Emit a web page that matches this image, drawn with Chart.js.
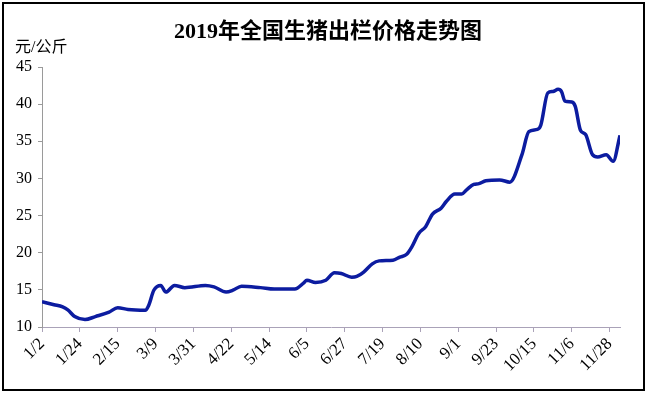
<!DOCTYPE html>
<html>
<head>
<meta charset="utf-8">
<script src="https://cdn.jsdelivr.net/npm/chart.js@4/dist/chart.umd.min.js"></script>
<style>
  html, body { margin: 0; padding: 0; background: #fff; }
  canvas { display: block; }
</style>
</head>
<body>
<canvas id="myChart" width="648" height="395"></canvas>
<script>
// Tick labels on the x axis (every 22 days from Jan 2)
const tickLabels = ["1/2", "1/24", "2/15", "3/9", "3/31", "4/22", "5/14", "6/5",
  "6/27", "7/19", "8/10", "9/1", "9/23", "10/15", "11/6", "11/28"];
const tickDays = [0, 22, 44, 66, 88, 110, 132, 154, 176, 198, 220, 242, 264, 286, 308, 330];

// Price readings: days after Jan 2, price in yuan/kg
const days = [0, 7, 12, 15, 19, 25, 31, 39, 44, 50,
  60, 62, 65, 69, 72, 77, 83, 95, 100, 107,
  111, 116, 127, 135, 147, 152, 154, 159, 165, 170,
  174, 180, 183, 187, 192, 196, 204, 208, 212, 215,
  219, 223, 227, 232, 235, 240, 244, 247, 251, 254,
  258, 266, 272, 279, 283, 288, 290, 294, 297, 300,
  302, 304, 308, 310, 313, 316, 320, 323, 328, 332,
  336];
const prices = [13.4, 13.0, 12.7, 12.3, 11.4, 11.0, 11.4, 12.0, 12.6, 12.35,
  12.25, 12.9, 14.95, 15.6, 14.7, 15.6, 15.3, 15.6, 15.4, 14.7,
  14.95, 15.5, 15.3, 15.1, 15.1, 15.9, 16.3, 16.0, 16.3, 17.3,
  17.2, 16.7, 16.8, 17.4, 18.5, 18.9, 19.0, 19.4, 19.8, 20.8,
  22.6, 23.5, 25.2, 26.0, 26.9, 27.9, 27.9, 28.5, 29.2, 29.3,
  29.7, 29.8, 29.5, 33.2, 36.3, 36.6, 37.2, 41.5, 41.7, 42.0,
  41.7, 40.4, 40.3, 39.7, 36.5, 35.9, 33.2, 32.9, 33.2, 32.3,
  35.8];

const titleText = "2019年全国生猪出栏价格走势图";
const unitText = "元/公斤";

// Border, title and unit label drawn on the canvas
const framePlugin = {
  id: "frame",
  afterDraw(chart) {
    const c = chart.ctx;
    c.save();
    c.strokeStyle = "#000";
    c.lineWidth = 2;
    c.strokeRect(3, 3, 641, 387);
    c.fillStyle = "#000";
    c.textBaseline = "middle";
    c.textAlign = "center";
    c.font = "bold 22px 'Liberation Serif', 'Noto Sans CJK SC'";
    c.fillText(titleText, 328, 32);
    c.textAlign = "left";
    c.font = "16px 'Liberation Serif', 'Noto Sans CJK SC'";
    c.fillText(unitText, 15, 48);
    c.restore();
  }
};

const ctx = document.getElementById("myChart").getContext("2d");

new Chart(ctx, {
  type: "line",
  data: {
    datasets: [{
      data: days.map((d, i) => ({ x: d, y: prices[i] })),
      borderColor: "#0c1ca0",
      borderWidth: 3.5,
      pointRadius: 0,
      fill: false,
      cubicInterpolationMode: "monotone"
    }]
  },
  options: {
    responsive: false,
    animation: false,
    devicePixelRatio: 1,
    layout: { padding: { top: 67, right: 28, bottom: 0, left: 0 } },
    plugins: {
      legend: { display: false },
      title: { display: false },
      tooltip: { enabled: false }
    },
    scales: {
      x: {
        type: "linear",
        min: 0,
        max: 336,
        afterBuildTicks: s => { s.ticks = tickDays.map(v => ({ value: v })); },
        afterFit: s => { s.height = 68; },
        ticks: {
          autoSkip: false,
          minRotation: 45,
          maxRotation: 45,
          padding: 2,
          color: "#000",
          font: { family: "'Liberation Serif'", size: 17 },
          callback: v => tickLabels[tickDays.indexOf(v)]
        },
        grid: { drawOnChartArea: false, tickLength: 5, color: "#aaa2b8" },
        border: { color: "#aaa2b8", width: 1 }
      },
      y: {
        min: 10,
        max: 45,
        afterFit: s => { s.width = 42; },
        ticks: {
          stepSize: 5,
          padding: 6,
          color: "#000",
          font: { family: "'Liberation Serif'", size: 16 }
        },
        grid: { drawOnChartArea: false, tickLength: 4, color: "#9a9a9a" },
        border: { color: "#9a9a9a", width: 1 }
      }
    }
  },
  plugins: [framePlugin]
});
</script>
</body>
</html>
